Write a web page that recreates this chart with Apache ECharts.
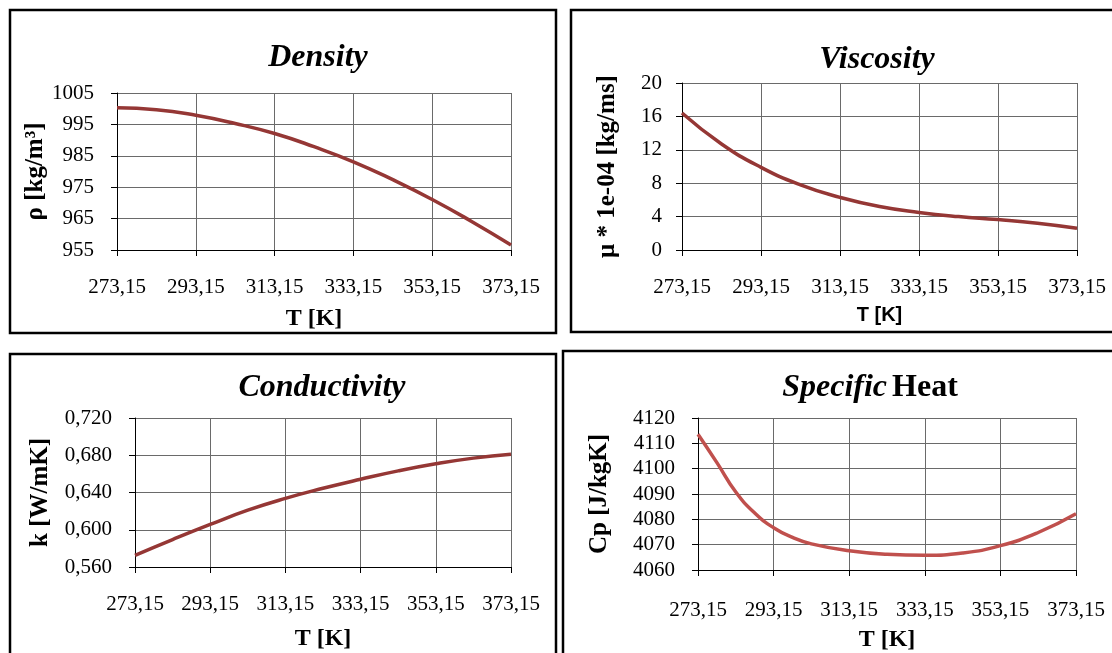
<!DOCTYPE html>
<html>
<head>
<meta charset="utf-8">
<script src="https://cdn.jsdelivr.net/npm/echarts@6/dist/echarts.min.js"></script>
<style>
  html, body { margin: 0; padding: 0; background: #fff; }
  #main { width: 1112px; height: 653px; }
</style>
</head>
<body>
<div id="main"></div>
<script>
// temperature [K] and properties
const T0 = 273.15
const tempK = [273.15, 283.15, 293.15, 303.15, 313.15, 323.15, 333.15, 343.15, 353.15, 363.15, 373.15]
const density = [1000.3, 999.7, 997.9, 995.3, 992.1, 987.9, 983.1, 977.4, 971.1, 964.1, 956.6]
const viscosity = [16.4, 12.7, 9.9, 7.8, 6.3, 5.2, 4.5, 4.0, 3.64, 3.2, 2.6]
const conductivity = [0.5726, 0.5895, 0.6057, 0.621, 0.6337, 0.6445, 0.6542, 0.6632, 0.6708, 0.6769, 0.6812]
const cpTempK = [273.15, 278.15, 283.15, 288.15, 293.15, 298.15, 303.15, 313.15, 323.15, 333.15, 343.15, 353.15, 363.15, 373.15]
const specificHeat = [4113.6, 4102.4, 4090.8, 4082.5, 4076.7, 4072.9, 4070.3, 4067.6, 4066.2, 4065.8, 4066.7, 4069.6, 4074.8, 4082.2]

const serif = 'Liberation Serif'
const darkRed = '#953735'
const lightRed = '#C0504D'

let myChart = echarts.init(document.getElementById('main'))

function pts(xs, ys) {
   return xs.map((t, i) => [t - T0, ys[i]])
}

function xAx(idx, margin, nameGap, nameFont) {
   return {
      type: 'value', gridIndex: idx, min: 0, max: 100, interval: 20,
      name: 'T [K]', nameLocation: 'middle', nameGap: nameGap,
      nameTextStyle: nameFont,
      axisLine: { lineStyle: { color: '#000', width: 1 } },
      axisTick: { show: true, length: 6, lineStyle: { color: '#000' } },
      axisLabel: {
         margin: margin, color: '#000', fontFamily: serif, fontSize: 21,
         formatter: v => (v + T0).toFixed(2).replace('.', ',')
      },
      splitLine: { show: true, lineStyle: { color: '#6a6a6a', width: 1 } }
   }
}

function yAx(idx, min, max, interval, name, nameGap, margin, fmt) {
   return {
      type: 'value', gridIndex: idx, min: min, max: max, interval: interval,
      name: name, nameLocation: 'middle', nameGap: nameGap,
      nameTextStyle: { fontFamily: serif, fontSize: 25, fontWeight: 'bold', color: '#000' },
      axisLine: { show: true, lineStyle: { color: '#000', width: 1 } },
      axisTick: { show: true, length: 6, lineStyle: { color: '#000' } },
      axisLabel: { margin: margin, color: '#000', fontFamily: serif, fontSize: 21, formatter: fmt || (v => String(v)) },
      splitLine: { show: true, lineStyle: { color: '#6a6a6a', width: 1 } }
   }
}

const serifName = { fontFamily: serif, fontSize: 24, fontWeight: 'bold', color: '#000' }
const sansName = { fontFamily: 'Liberation Sans', fontSize: 20, fontWeight: 'bold', color: '#000' }
const titleStyle = { fontFamily: serif, fontSize: 32, fontWeight: 'bold', fontStyle: 'italic', color: '#000' }

function border(x, y, w, h) {
   return { type: 'rect', shape: { x: x, y: y, width: w, height: h }, style: { fill: null, stroke: '#000', lineWidth: 2.5 }, z: 100 }
}

myChart.setOption({
   animation: false,
   title: [
      { text: 'Density', left: 313, top: 53, textAlign: 'center', textVerticalAlign: 'middle', textStyle: titleStyle },
      { text: 'Viscosity', left: 872, top: 55, textAlign: 'center', textVerticalAlign: 'middle', textStyle: titleStyle },
      { text: 'Conductivity', left: 317, top: 383, textAlign: 'center', textVerticalAlign: 'middle', textStyle: titleStyle },
      {
         text: '{i|Specific} {b|Heat}', left: 865, top: 383, textAlign: 'center', textVerticalAlign: 'middle',
         textStyle: {
            rich: {
               i: titleStyle,
               b: { fontFamily: serif, fontSize: 32, fontWeight: 'bold', color: '#000' }
            }
         }
      }
   ],
   grid: [
      { left: 117, top: 93, width: 394, height: 157 },
      { left: 682, top: 83, width: 395, height: 167 },
      { left: 135, top: 418, width: 376, height: 149 },
      { left: 698, top: 418, width: 378, height: 155 }
   ],
   xAxis: [
      xAx(0, 27, 57, serifName),
      xAx(1, 27, 55, sansName),
      xAx(2, 27, 60, serifName),
      xAx(3, 30, 58, serifName)
   ],
   yAxis: [
      yAx(0, 955, 1005, 10, 'ρ [kg/m³]', 48, 23),
      yAx(1, 0, 20, 4, 'μ * 1e-04 [kg/ms]', 62, 20),
      yAx(2, 0.56, 0.72, 0.04, 'k [W/mK]', 82, 23, v => v.toFixed(3).replace('.', ',')),
      yAx(3, 4060, 4120, 10, 'Cp [J/kgK]', 86, 23)
   ],
   series: [
      { type: 'line', xAxisIndex: 0, yAxisIndex: 0, smooth: 0.5, symbol: 'none', data: pts(tempK, density), lineStyle: { color: darkRed, width: 3.5 } },
      { type: 'line', xAxisIndex: 1, yAxisIndex: 1, smooth: 0.5, symbol: 'none', data: pts(tempK, viscosity), lineStyle: { color: darkRed, width: 3.5 } },
      { type: 'line', xAxisIndex: 2, yAxisIndex: 2, smooth: 0.5, symbol: 'none', data: pts(tempK, conductivity), lineStyle: { color: darkRed, width: 3.5 } },
      { type: 'line', xAxisIndex: 3, yAxisIndex: 3, smooth: 0.5, symbol: 'none', data: pts(cpTempK, specificHeat), lineStyle: { color: lightRed, width: 3.5 } }
   ],
   graphic: [
      border(10, 10, 546, 323),
      border(571, 10, 560, 322),
      border(10, 354, 546, 320),
      border(563, 351, 580, 320)
   ]
})
</script>
</body>
</html>
